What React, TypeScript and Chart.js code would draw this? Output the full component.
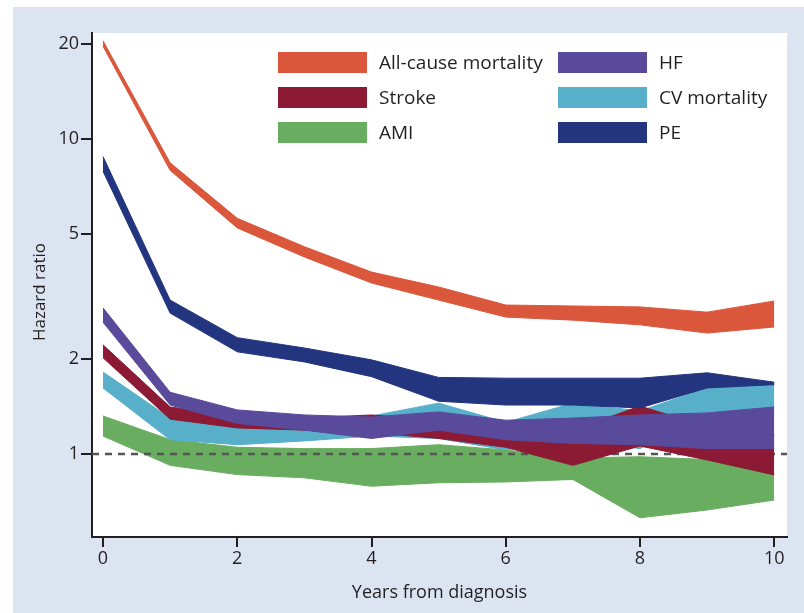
import React, { useEffect, useRef } from "react";
import { Chart, registerables } from "chart.js";

Chart.register(...registerables);

// ---------- data ----------
const YEARS = [0, 1, 2, 3, 4, 5, 6, 7, 8, 9, 10];

const ALL_CAUSE_UPPER = [20.5, 8.4, 5.6, 4.55, 3.78, 3.39, 2.97, 2.95, 2.93, 2.82, 3.06];
const ALL_CAUSE_LOWER = [19.7, 7.95, 5.22, 4.22, 3.49, 3.08, 2.72, 2.66, 2.57, 2.42, 2.53];

const PE_UPPER = [8.8, 3.08, 2.34, 2.17, 1.99, 1.75, 1.74, 1.74, 1.74, 1.81, 1.69];
const PE_LOWER = [7.9, 2.8, 2.11, 1.96, 1.76, 1.47, 1.43, 1.43, 1.4, 1.62, 1.66];

const HF_UPPER = [2.91, 1.57, 1.38, 1.33, 1.31, 1.36, 1.28, 1.3, 1.33, 1.35, 1.41];
const HF_LOWER = [2.62, 1.43, 1.25, 1.19, 1.12, 1.19, 1.11, 1.08, 1.07, 1.04, 1.04];

const STROKE_UPPER = [2.22, 1.41, 1.32, 1.3, 1.33, 1.28, 1.24, 1.19, 1.42, 1.22, 1.15];
const STROKE_LOWER = [2.02, 1.29, 1.21, 1.19, 1.17, 1.12, 1.05, 0.92, 1.06, 0.957, 0.858];

const CV_UPPER = [1.82, 1.3, 1.22, 1.24, 1.32, 1.45, 1.26, 1.45, 1.37, 1.62, 1.68];
const CV_LOWER = [1.62, 1.11, 1.07, 1.1, 1.14, 1.12, 1.03, 1.11, 1.04, 1.33, 1.38];

const AMI_UPPER = [1.32, 1.11, 1.05, 1.04, 1.04, 1.07, 1.03, 0.97, 0.98, 0.96, 0.87];
const AMI_LOWER = [1.14, 0.92, 0.86, 0.84, 0.79, 0.81, 0.815, 0.83, 0.627, 0.664, 0.714];

const Y_TICKS = [1, 2, 5, 10, 20];
const X_TICKS = [0, 2, 4, 6, 8, 10];
const REFERENCE_HR = 1;

const X_MIN = -0.164;
const X_MAX = 10.19;
const Y_MIN = 0.545;
const Y_MAX = 21.7;

const X_TITLE = "Years from diagnosis";
const Y_TITLE = "Hazard ratio";

// ---------- style ----------
const FONT = "'Open Sans', 'DejaVu Sans', sans-serif";
const TEXT = "#231f20";
const PANEL = "#dce4f2";

const SERIES = [
  { label: "All-cause mortality", upper: ALL_CAUSE_UPPER, lower: ALL_CAUSE_LOWER, color: "#db573b", order: 0 },
  { label: "Stroke", upper: STROKE_UPPER, lower: STROKE_LOWER, color: "#8c1a35", order: 3 },
  { label: "AMI", upper: AMI_UPPER, lower: AMI_LOWER, color: "#69ad60", order: 6 },
  { label: "HF", upper: HF_UPPER, lower: HF_LOWER, color: "#5a4a9c", order: 2 },
  { label: "CV mortality", upper: CV_UPPER, lower: CV_LOWER, color: "#57afca", order: 4 },
  { label: "PE", upper: PE_UPPER, lower: PE_LOWER, color: "#24357f", order: 1 },
];

const backgroundPlugin = {
  id: "panelBg",
  beforeDraw(chart: any) {
    const { ctx, width, height, chartArea } = chart;
    ctx.save();
    ctx.fillStyle = "#ffffff";
    ctx.fillRect(0, 0, width, height);
    ctx.fillStyle = PANEL;
    ctx.fillRect(13, 7, width - 13, height - 7);
    ctx.fillStyle = "#ffffff";
    ctx.fillRect(chartArea.left, chartArea.top, chartArea.right - chartArea.left, chartArea.bottom - chartArea.top);
    ctx.restore();
  },
};

const legendPlugin = {
  id: "boxLegend",
  afterDraw(chart: any) {
    const { ctx } = chart;
    const cols = [278, 558];
    const rows = [52, 87, 122];
    const bw = 89;
    const bh = 21;
    ctx.save();
    ctx.font = `500 19px ${FONT}`;
    ctx.textBaseline = "middle";
    ctx.textAlign = "left";
    SERIES.forEach((s, i) => {
      const c = Math.floor(i / 3);
      const r = i % 3;
      const x = cols[c];
      const y = rows[r];
      ctx.fillStyle = s.color;
      ctx.fillRect(x, y, bw, bh);
      ctx.fillStyle = TEXT;
      ctx.fillText(s.label, x + bw + 12, y + bh / 2 + 1);
    });
    ctx.restore();
  },
};

const titlePlugin = {
  id: "axisTitles",
  afterDraw(chart: any) {
    const { ctx, chartArea } = chart;
    ctx.save();
    ctx.fillStyle = TEXT;
    ctx.textAlign = "center";
    ctx.textBaseline = "middle";
    ctx.font = `500 18px ${FONT}`;
    ctx.fillText(X_TITLE, (chartArea.left + chartArea.right) / 2, 593);
    ctx.font = `500 17px ${FONT}`;
    ctx.translate(40, 292);
    ctx.rotate(-Math.PI / 2);
    ctx.fillText(Y_TITLE, 0, 0);
    ctx.restore();
  },
};

export default function App() {
  const ref = useRef<HTMLCanvasElement>(null);

  useEffect(() => {
    if (!ref.current) return;
    const datasets: any[] = [];
    SERIES.forEach((s) => {
      datasets.push({
        label: s.label + " upper",
        data: YEARS.map((x, i) => ({ x, y: s.upper[i] })),
        borderColor: s.color,
        backgroundColor: s.color,
        borderWidth: 1,
        pointRadius: 0,
        tension: 0,
        fill: "+1",
        order: s.order,
      });
      datasets.push({
        label: s.label + " lower",
        data: YEARS.map((x, i) => ({ x, y: s.lower[i] })),
        borderColor: s.color,
        backgroundColor: s.color,
        borderWidth: 1,
        pointRadius: 0,
        tension: 0,
        fill: false,
        order: s.order,
      });
    });
    datasets.push({
      label: "reference",
      data: [
        { x: X_MIN, y: REFERENCE_HR },
        { x: X_MAX, y: REFERENCE_HR },
      ],
      borderColor: "#555555",
      borderWidth: 2.5,
      borderDash: [7, 6],
      pointRadius: 0,
      fill: false,
      order: 5,
    });

    const tickFont = { family: FONT, size: 18, weight: 500 as any };

    const chart = new Chart(ref.current, {
      type: "line",
      data: { datasets },
      plugins: [backgroundPlugin, legendPlugin, titlePlugin],
      options: {
        responsive: false,
        animation: false,
        devicePixelRatio: 1,
        layout: { padding: { top: 33, right: 17, left: 0, bottom: 0 } },
        plugins: { legend: { display: false }, tooltip: { enabled: false } },
        scales: {
          x: {
            type: "linear",
            min: X_MIN,
            max: X_MAX,
            afterBuildTicks: (scale: any) => {
              scale.ticks = X_TICKS.map((v) => ({ value: v }));
            },
            afterFit: (scale: any) => {
              scale.height = 76;
            },
            ticks: {
              color: TEXT,
              font: tickFont,
              padding: 1,
              maxRotation: 0,
              autoSkip: false,
              callback: (v: any) => String(v),
            },
            grid: { drawOnChartArea: false, drawTicks: true, tickLength: 10, color: "#231f20", lineWidth: 2 },
            border: { display: true, color: "#231f20", width: 2 },
          },
          y: {
            type: "logarithmic",
            min: Y_MIN,
            max: Y_MAX,
            afterBuildTicks: (scale: any) => {
              scale.ticks = Y_TICKS.map((v) => ({ value: v }));
            },
            afterFit: (scale: any) => {
              scale.width = 92;
            },
            ticks: {
              color: TEXT,
              font: tickFont,
              padding: 2,
              autoSkip: false,
              callback: (v: any) => String(v),
            },
            grid: { drawOnChartArea: false, drawTicks: true, tickLength: 11, color: "#231f20", lineWidth: 2 },
            border: { display: true, color: "#231f20", width: 2 },
          },
        },
      },
    });
    return () => chart.destroy();
  }, []);

  return (
    <div style={{ position: "absolute", left: 0, top: 0, width: 804, height: 613 }}>
      <canvas ref={ref} width={804} height={613} style={{ display: "block" }} />
    </div>
  );
}
